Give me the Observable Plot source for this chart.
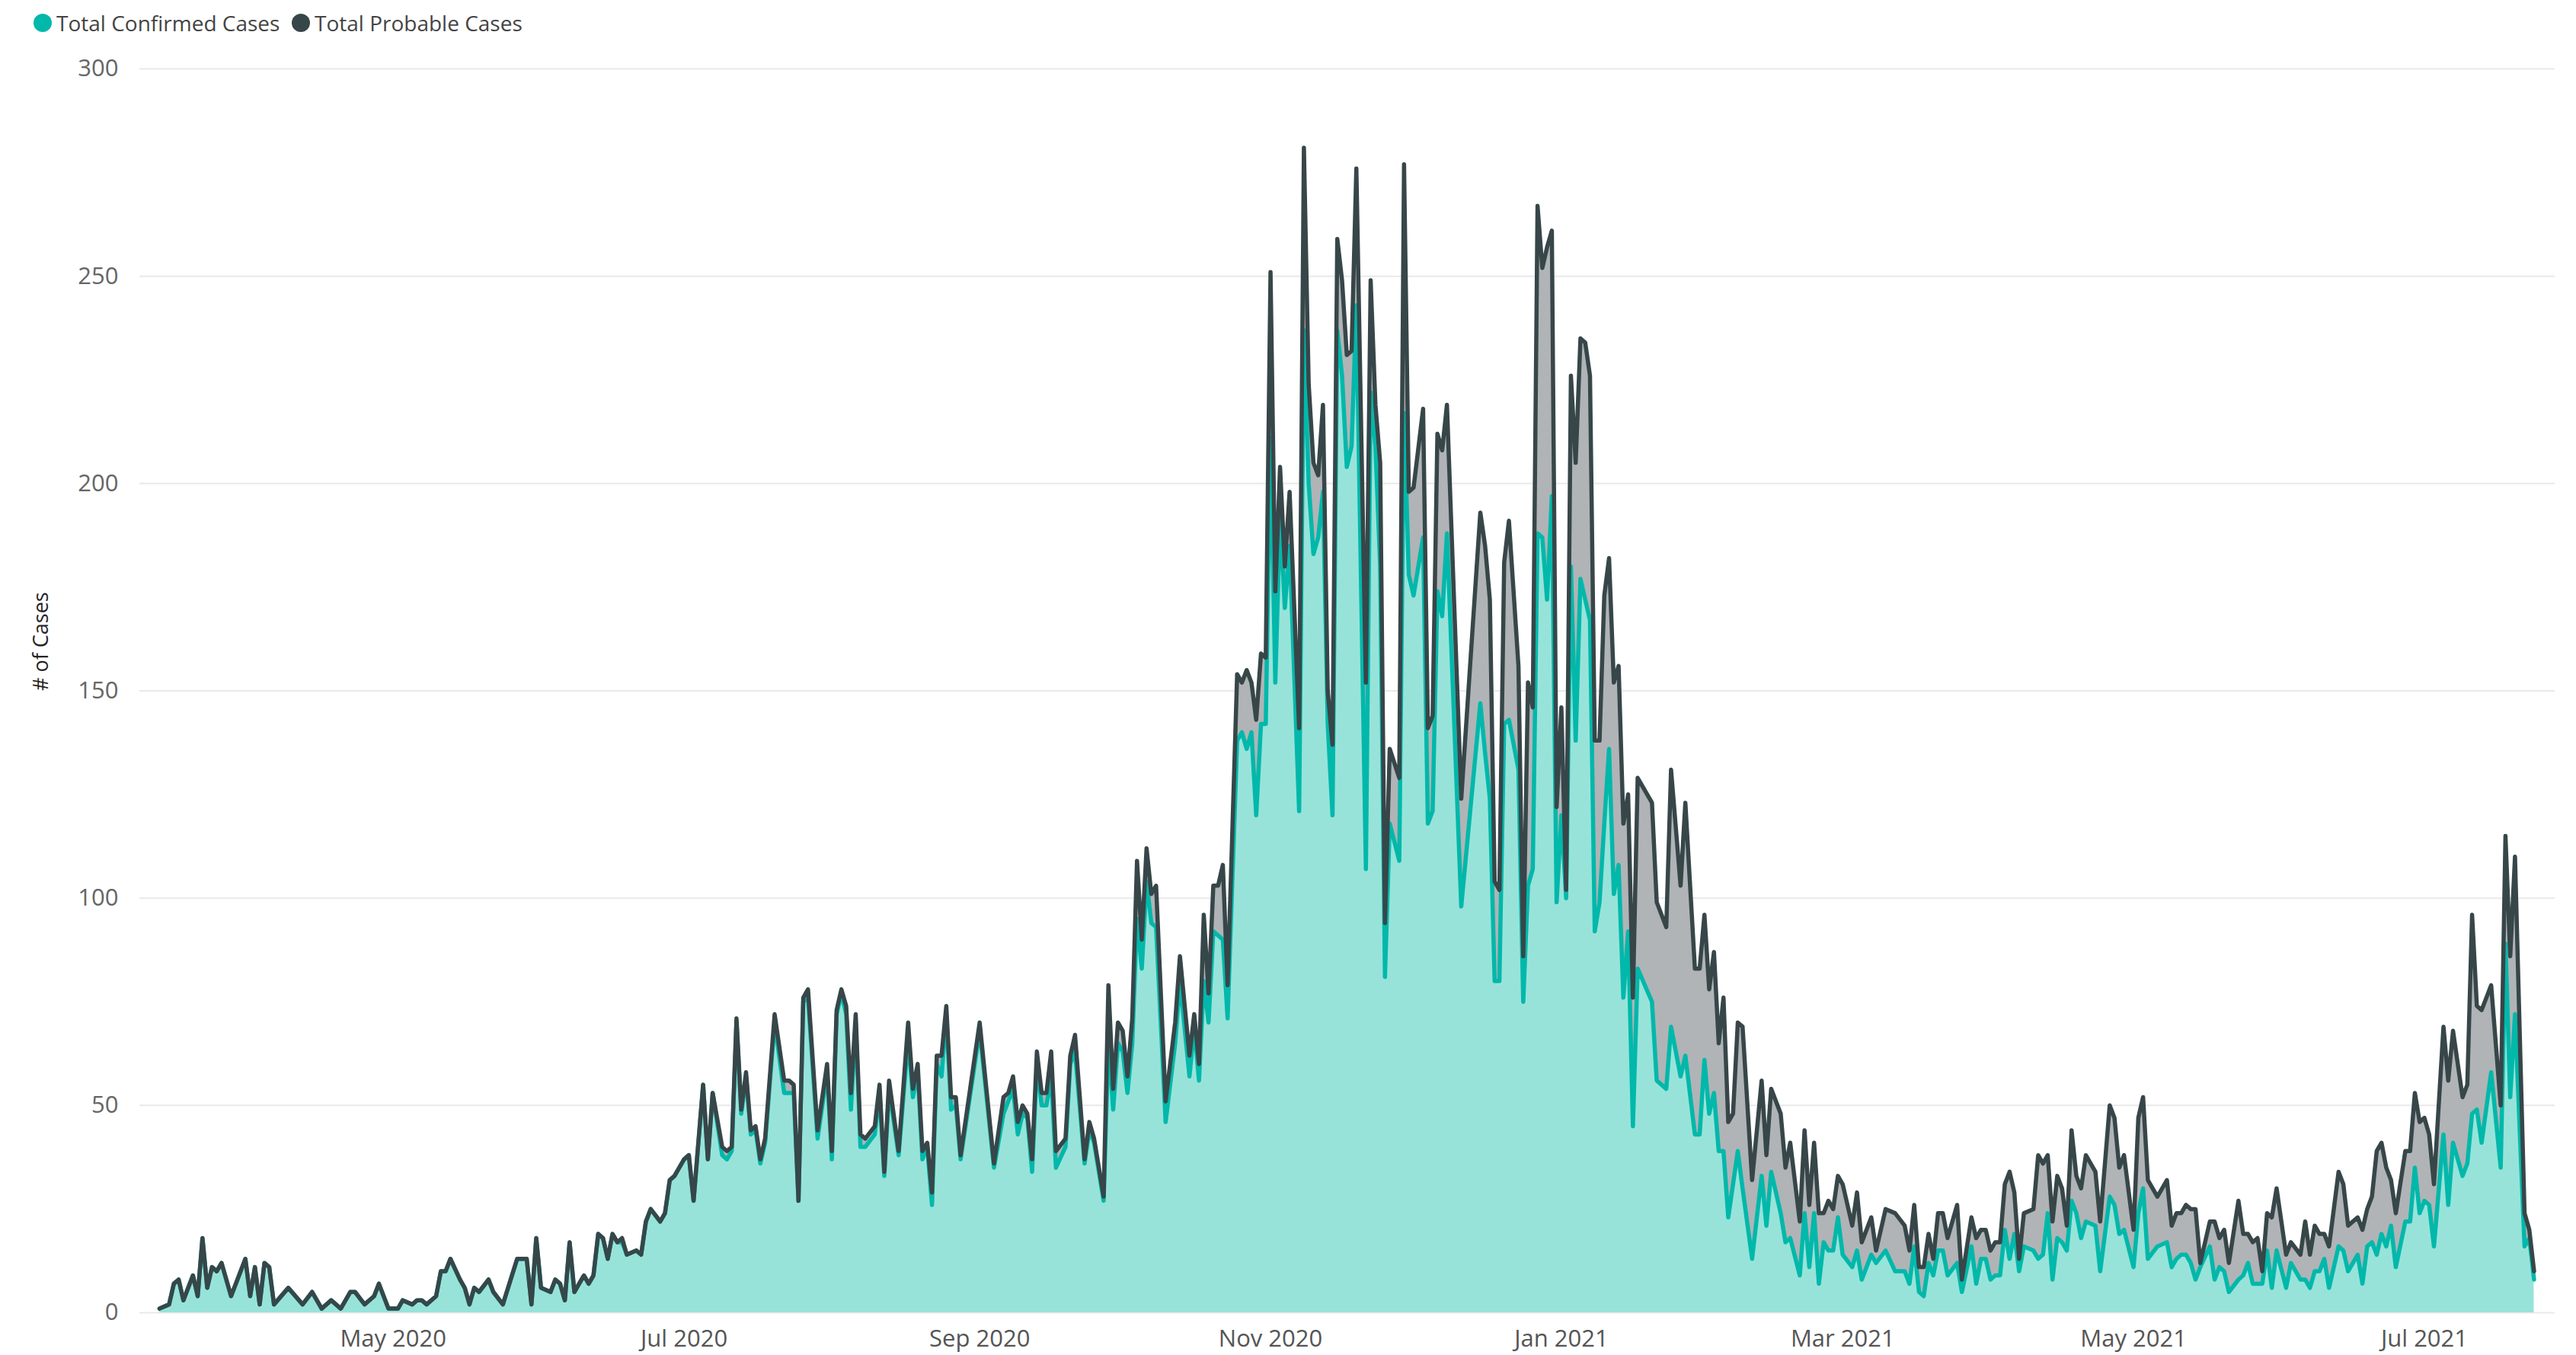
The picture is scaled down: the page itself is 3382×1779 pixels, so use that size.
<!DOCTYPE html>
<html>
<head>
<meta charset="utf-8">
<script src="https://cdn.jsdelivr.net/npm/d3@7"></script>
<script src="https://cdn.jsdelivr.net/npm/@observablehq/plot@0.6"></script>
<style>
  html, body { margin: 0; padding: 0; background: #ffffff; }
  body { font-family: "Segoe UI", "Open Sans", sans-serif; width: 3382px; height: 1779px; overflow: hidden; position: relative; }
  #legend { position: relative; height: 62px; width: 3382px; }
  .dot { position: absolute; width: 24px; height: 24px; border-radius: 50%; top: 18px; }
  .lbl { position: absolute; top: 11px; font-size: 28px; line-height: 38px; color: #444444; white-space: nowrap; }
  #chart { position: absolute; left: 0; top: 62px; }
</style>
</head>
<body>
<div id="legend"></div>
<div id="chart"></div>
<script>
// ---- data ----
const startDate = "2020-03-13";               // day 0
const seriesNames = ["Total Confirmed Cases", "Total Probable Cases"];
const seriesLineColors = ["#01b8aa", "#374649"];
const seriesFillColors = ["#97e3da", "#b0b4b6"];

const dayIndex = [
  0,2,3,4,5,7,8,9,10,11,
  12,13,15,18,19,20,21,22,23,24,
  27,30,32,34,36,38,40,41,43,45,
  46,48,50,51,53,54,55,56,58,59,
  60,61,63,64,65,66,67,69,70,72,
  75,77,78,79,80,82,83,84,85,86,
  87,89,90,91,92,93,94,95,96,97,
  98,100,101,102,103,105,106,107,108,110,
  111,112,114,115,116,118,119,120,121,122,
  123,124,125,126,127,129,131,132,133,134,
  135,136,138,140,141,142,143,144,145,146,
  147,148,150,151,152,153,155,157,158,159,
  160,161,162,163,164,165,166,167,168,172,
  175,177,178,179,180,181,182,183,184,185,
  186,187,188,190,191,192,194,195,196,198,
  199,200,201,202,203,204,205,206,207,208,
  209,211,213,214,216,217,218,219,220,221,
  222,223,224,226,227,228,229,230,231,232,
  233,234,235,236,237,239,240,241,242,243,
  244,245,246,247,248,249,250,251,253,254,
  255,256,257,258,260,261,262,263,265,266,
  267,268,269,270,273,277,278,279,280,281,
  282,283,285,286,287,288,289,290,291,292,
  293,294,295,296,297,298,299,300,301,302,
  303,304,305,306,307,308,309,310,313,314,
  316,317,319,320,322,323,324,325,326,327,
  328,329,330,331,332,334,336,337,338,340,
  341,342,344,345,346,347,348,349,350,351,
  352,353,355,356,357,359,360,362,364,366,
  367,368,369,370,371,372,373,374,375,377,
  378,380,381,382,383,384,385,386,387,388,
  389,390,391,393,394,395,396,397,398,399,
  400,401,402,403,404,406,407,409,410,411,
  412,414,415,416,417,419,421,422,423,424,
  425,426,427,428,430,431,432,433,434,436,
  437,438,439,440,441,442,443,444,446,447,
  449,450,451,452,453,454,455,457,458,459,
  461,462,463,464,465,466,467,468,469,471,
  472,473,474,475,476,477,479,480,481,483,
  484,485,486,487,489,491,492,493,494,496,
  497,498
];

const confirmedCases = [
  1,2,7,8,3,9,4,18,6,11,
  10,12,4,13,4,11,2,12,11,2,
  6,2,5,1,3,1,5,5,2,4,
  7,1,1,3,2,3,3,2,4,10,
  10,13,8,6,2,6,5,8,5,2,
  13,13,2,18,6,5,8,7,3,17,
  5,9,7,9,19,18,13,19,17,17,
  14,15,14,22,25,22,24,32,33,37,
  38,27,55,37,53,38,37,39,70,48,
  57,43,44,36,41,70,53,53,53,27,
  75,76,42,58,37,72,77,72,49,70,
  40,40,43,53,33,54,38,66,52,58,
  37,40,26,60,57,72,49,50,37,68,
  35,48,51,54,43,48,47,34,60,50,
  50,57,35,40,60,63,36,44,41,27,
  65,49,65,63,53,65,95,83,104,94,
  93,46,65,80,57,69,56,80,70,92,
  91,90,71,138,140,136,140,120,142,142,
  211,152,192,170,185,121,237,200,183,187,
  198,142,120,237,226,204,209,243,107,222,
  209,180,81,118,109,217,178,173,187,118,
  121,174,168,188,98,147,135,124,80,80,
  142,143,131,75,103,107,188,187,172,197,
  99,120,100,180,138,177,172,167,92,99,
  118,136,101,108,76,92,45,83,75,56,
  54,69,57,62,43,43,61,48,53,39,
  39,23,31,39,30,13,33,21,34,24,
  17,18,9,24,11,24,7,17,15,15,
  23,14,11,15,8,14,12,15,10,10,
  7,16,5,4,12,9,15,15,9,12,
  5,16,7,13,13,8,9,9,20,13,
  19,10,16,15,13,14,24,8,18,17,
  15,27,24,18,22,21,10,28,26,19,
  20,11,24,30,13,16,17,11,13,14,
  14,12,8,11,16,8,11,10,5,8,
  9,12,7,7,7,15,6,15,6,12,
  8,8,6,10,10,13,6,16,15,10,
  14,7,16,17,14,19,16,21,11,22,
  22,35,24,27,26,16,43,26,41,33,
  36,48,49,41,58,35,89,52,72,16,
  18,8
];

const probableCases = [
  0,0,0,0,0,0,0,0,0,0,
  0,0,0,0,0,0,0,0,0,0,
  0,0,0,0,0,0,0,0,0,0,
  0,0,0,0,0,0,0,0,0,0,
  0,0,0,0,0,0,0,0,0,0,
  0,0,0,0,0,0,0,0,0,0,
  0,0,0,0,0,0,0,0,0,1,
  0,0,0,0,0,0,0,0,0,0,
  0,0,0,0,0,2,2,1,1,1,
  1,1,1,1,1,2,3,3,2,0,
  1,2,2,2,2,1,1,2,4,2,
  3,2,2,2,1,2,1,4,2,2,
  2,1,3,2,5,2,3,2,1,2,
  1,4,2,3,3,2,1,3,3,3,
  3,6,4,2,2,4,1,2,1,1,
  14,5,5,5,4,6,14,7,8,7,
  10,5,5,6,5,3,4,16,7,11,
  12,18,8,16,12,19,12,23,17,16,
  40,22,12,10,13,20,44,24,22,15,
  21,8,17,22,23,27,23,33,45,27,
  10,25,13,18,20,60,20,26,31,23,
  23,38,40,31,26,46,50,48,24,22,
  39,48,25,11,49,39,79,65,85,64,
  23,26,2,46,67,58,62,59,46,39,
  55,46,51,48,42,33,31,46,48,43,
  39,62,46,61,40,40,35,30,34,26,
  37,23,17,31,39,19,23,17,20,24,
  18,23,13,20,15,17,17,7,12,10,
  10,17,10,14,9,9,3,10,14,11,
  8,10,6,7,7,4,9,9,9,14,
  3,7,11,7,7,7,8,8,11,21,
  10,3,8,10,25,22,14,14,15,13,
  6,17,9,12,16,13,12,22,21,16,
  18,9,23,22,19,12,15,10,11,10,
  12,13,17,1,6,14,7,10,7,19,
  10,7,10,11,3,9,17,15,8,5,
  6,14,8,11,9,6,10,18,16,11,
  9,13,9,11,25,22,19,11,13,17,
  17,18,22,20,17,15,26,30,27,19,
  19,48,25,32,21,15,26,34,38,8,
  2,2
];

const xTickDates = ["2020-05-01","2020-07-01","2020-09-01","2020-11-01","2021-01-01","2021-03-01","2021-05-01","2021-07-01"];
const xTickLabels = ["May 2020","Jul 2020","Sep 2020","Nov 2020","Jan 2021","Mar 2021","May 2021","Jul 2021"];
const yTicks = [0, 50, 100, 150, 200, 250, 300];
const yTitle = "# of Cases";

// ---- build table ----
const DAY = 86400000;
const t0 = Date.parse(startDate + "T00:00:00Z");
const toDate = d => new Date(t0 + d * DAY);
const rows = [];
dayIndex.forEach((d, i) => {
  rows.push({date: toDate(d), series: seriesNames[0], value: confirmedCases[i]});
  rows.push({date: toDate(d), series: seriesNames[1], value: probableCases[i]});
});
const fillOf = d => seriesFillColors[seriesNames.indexOf(d.series)];
const strokeOf = d => seriesLineColors[seriesNames.indexOf(d.series)];
const tickDates = xTickDates.map(s => new Date(s + "T00:00:00Z"));
const labelByTime = new Map(tickDates.map((d, i) => [+d, xTickLabels[i]]));

// ---- legend ----
const legend = document.getElementById("legend");
const legendPos = [{dot: 44, text: 74}, {dot: 383, text: 413}];
seriesNames.forEach((name, i) => {
  const dot = document.createElement("div");
  dot.className = "dot";
  dot.style.left = legendPos[i].dot + "px";
  dot.style.background = seriesLineColors[i];
  legend.appendChild(dot);
  const t = document.createElement("div");
  t.className = "lbl";
  t.style.left = legendPos[i].text + "px";
  t.textContent = name;
  legend.appendChild(t);
});

// ---- chart ----
const font = '"Segoe UI", "Open Sans", sans-serif';
const chart = Plot.plot({
  width: 3382,
  height: 1717,
  marginLeft: 183,
  marginRight: 28,
  marginTop: 28,
  marginBottom: 56,
  style: {fontFamily: font, fontSize: "31px", color: "#666666", background: "#ffffff", overflow: "visible"},
  x: {type: "utc", domain: [toDate(-4.15), toDate(502.4)]},
  y: {domain: [0, 300]},
  marks: [
    Plot.gridY(yTicks, {stroke: "#e9e9e9", strokeOpacity: 1, strokeWidth: 2}),
    Plot.areaY(rows, {x: "date", y: "value", z: "series", fill: fillOf, fillOpacity: 1}),
    Plot.lineY(rows, Plot.stackY2({x: "date", y: "value", z: "series", stroke: strokeOf,
      strokeWidth: 5.5, strokeLinejoin: "round", strokeLinecap: "round"})),
    Plot.axisY(yTicks, {tickSize: 0, tickPadding: 28, label: null, fill: "#666666"}),
    Plot.axisX(tickDates, {tickSize: 0, tickPadding: 22, label: null, fill: "#555555",
      tickFormat: d => labelByTime.get(+d)}),
    Plot.text([yTitle], {frameAnchor: "left", dx: -129, rotate: -90, fontSize: 27, fill: "#252423"})
  ]
});
document.getElementById("chart").appendChild(chart);
</script>
</body>
</html>
